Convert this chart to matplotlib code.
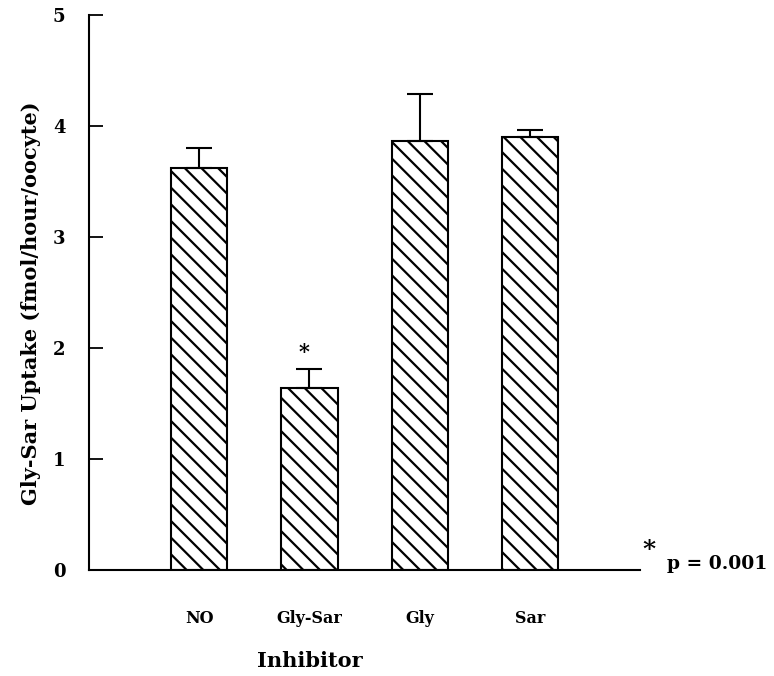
import matplotlib
matplotlib.use("Agg")
import matplotlib.pyplot as plt
import matplotlib.transforms as mtransforms
import numpy as np

categories = ["NO", "Gly-Sar", "Gly", "Sar"]
means = [3.62, 1.64, 3.86, 3.90]
errors = [0.18, 0.17, 0.43, 0.06]
significant = [False, True, False, False]
yticks = [0, 1, 2, 3, 4, 5]

plt.rcParams['font.family'] = ['DejaVu Serif']
plt.rcParams['font.weight'] = 'bold'
plt.rcParams['hatch.linewidth'] = 1.6

fig = plt.figure(figsize=(7.74, 6.76), dpi=100)
ax = fig.add_axes([0.115, 0.157, 0.712, 0.821])

x = np.arange(len(categories))
ax.bar(x, means, width=0.51, color='white', edgecolor='black',
       linewidth=1.5, hatch='\\\\', zorder=2)
ax.errorbar(x, means, yerr=[np.zeros(len(errors)), errors], fmt='none',
            ecolor='black', elinewidth=1.5, capsize=9.5, capthick=1.5, zorder=3)
for xi, m, e, s in zip(x, means, errors, significant):
    if s:
        ax.text(xi - 0.05, m + e + 0.06, '*', ha='center', va='bottom',
                fontsize=15, fontweight='bold')

ax.set_xlim(-1.0, 4.0)
ax.set_ylim(0, 5)
ax.set_yticks(yticks)
ax.set_yticklabels([str(t) for t in yticks], fontsize=13, fontweight='bold')
ax.set_xticks(x)
ax.set_xticklabels(categories, fontsize=11.5, fontweight='bold')
offset = mtransforms.ScaledTranslation(-0.10, 0, fig.dpi_scale_trans)
for lbl in ax.get_xticklabels():
    lbl.set_transform(lbl.get_transform() + offset)
ax.tick_params(axis='x', direction='in', length=6, width=1.3, pad=29)
ax.tick_params(axis='y', direction='in', length=10, width=1.3, pad=17)

for side in ['top', 'right']:
    ax.spines[side].set_visible(False)
for side in ['left', 'bottom']:
    ax.spines[side].set_linewidth(1.5)

ax.set_ylabel('Gly-Sar Uptake (fmol/hour/oocyte)', fontsize=15,
              fontweight='bold')
ax.yaxis.set_label_coords(-0.087, 0.48)
ax.set_xlabel('Inhibitor', fontsize=15, fontweight='bold')
ax.xaxis.set_label_coords(0.400, -0.146)

fig.text(0.830, 0.168, '*', fontsize=18, fontweight='bold', ha='left', va='bottom')
fig.text(0.862, 0.152, 'p = 0.001', fontsize=13.5, fontweight='bold', ha='left', va='bottom')

fig.savefig('out.png', dpi=100)
